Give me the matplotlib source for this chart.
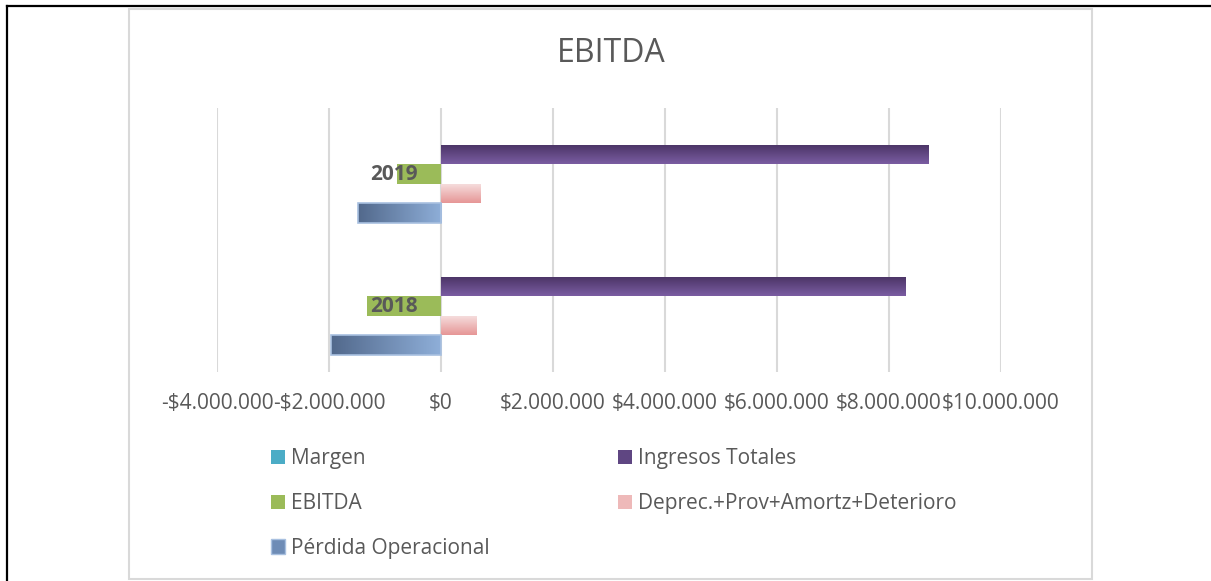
import numpy as np
import matplotlib
matplotlib.use('Agg')
import matplotlib.pyplot as plt
from matplotlib.colors import LinearSegmentedColormap
from matplotlib.patches import Rectangle
from matplotlib.lines import Line2D
from matplotlib.ticker import FixedLocator, FuncFormatter

plt.rcParams['font.family'] = ['Open Sans', 'DejaVu Sans']

years = ['2019', '2018']
series = ['Margen', 'Ingresos Totales', 'EBITDA',
          'Deprec.+Prov+Amortz+Deterioro', 'Pérdida Operacional']
margen = [0, 0]
ingresos = [8700000, 8300000]
ebitda = [-790000, -1320000]
deprec = [700000, 640000]
perdida = [-1490000, -1960000]
values = [margen, ingresos, ebitda, deprec, perdida]
x_ticks = [-4000000, -2000000, 0, 2000000, 4000000, 6000000, 8000000, 10000000]

# fill style per series: (solid colour, gradient direction, gradient colours)
styles = [
    ('#4bacc6', None, None),
    ('#5f4682', 'v', ['#4a3464', '#7a5ca2']),
    ('#9bbb59', None, None),
    ('#eeb9b9', 'v', ['#f6e0e0', '#e69696']),
    ('#6e8cb6', 'h', ['#52698c', '#8eaed8']),
]

grey = '#595959'
W, H = 1211, 581
fig = plt.figure(figsize=(W / 100, H / 100), dpi=100)
ax = fig.add_axes([217 / W, 1 - 372 / H, 784 / W, 264 / H])

bh = 0.147
pos = np.arange(len(years))
for i, (name, vals) in enumerate(zip(series, values)):
    color, direction, grad = styles[i]
    ec = '#a8c0e0' if i == 4 else 'none'
    c = ax.barh(pos + (i - 2) * bh, vals, height=bh, color=color,
                edgecolor=ec, linewidth=1.2 if i == 4 else 0, label=name, zorder=2)
    if direction is None:
        continue
    cmap = LinearSegmentedColormap.from_list(name, grad)
    for p in c.patches:
        bb = p.get_bbox()
        x0, x1 = sorted([bb.x0, bb.x1])
        y0, y1 = sorted([bb.y0, bb.y1])
        if direction == 'v':
            g = np.linspace(0, 1, 64).reshape(-1, 1)
        else:
            g = np.linspace(0, 1, 64).reshape(1, -1)
        im = ax.imshow(g, cmap=cmap, aspect='auto', extent=(x0, x1, y1, y0),
                       origin='upper', zorder=2.1, interpolation='bilinear')
        im.set_clip_path(p)
        if i == 4:
            p.set_facecolor('none')
            p.set_zorder(2.2)

ax.set_xlim(-4000000, 10000000)
ax.set_ylim(len(years) - 0.5, -0.5)
ax.set_aspect('auto')

ax.xaxis.set_major_locator(FixedLocator(x_ticks))


def money(v, p):
    s = f"{abs(v):,.0f}".replace(',', '.')
    return ('-' if v < 0 else '') + '$' + s


ax.xaxis.set_major_formatter(FuncFormatter(money))
ax.tick_params(axis='x', length=0, pad=15, labelsize=15, labelcolor=grey)
ax.set_yticks([])
ax.grid(axis='x', color='#d9d9d9', linewidth=1.5)
ax.set_axisbelow(True)
for s in ax.spines.values():
    s.set_visible(False)

for k, yr in enumerate(years):
    ax.annotate(yr, xy=(0, pos[k]), xytext=(-16.5, 0), textcoords='offset points',
                ha='right', va='center', fontsize=15, fontweight='bold',
                color=grey, zorder=5)

fig.text(611 / W, 1 - 53 / H, 'EBITDA', ha='center', va='center',
         fontsize=23, color=grey)

# legend, row-major order in two columns
order = [0, 2, 4, 1, 3]
handles = []
for i in order:
    color, direction, grad = styles[i]
    handles.append(Rectangle((0, 0), 1, 1, facecolor=color,
                             edgecolor='#a8c0e0' if i == 4 else 'none'))
leg = fig.legend(handles, [series[i] for i in order], ncol=2, loc='upper left',
                 bbox_to_anchor=(271 / W, 1 - 448 / H), frameon=False,
                 fontsize=15, labelcolor=grey, handlelength=0.68, handleheight=0.68,
                 handletextpad=0.28, labelspacing=1.15, columnspacing=6.15,
                 borderpad=0, borderaxespad=0)

# chart frame and page border
fig.add_artist(Rectangle((129 / W, 1 - 579 / H), (1092 - 129) / W, (579 - 9) / H,
                         transform=fig.transFigure, fill=False,
                         edgecolor='#d9d9d9', linewidth=1.5))
fig.add_artist(Line2D([7 / W, 1], [1 - 6 / H, 1 - 6 / H], color='black', linewidth=1.6))
fig.add_artist(Line2D([7 / W, 7 / W], [0, 1 - 6 / H], color='black', linewidth=1.6))

fig.savefig('out.png', dpi=100)
